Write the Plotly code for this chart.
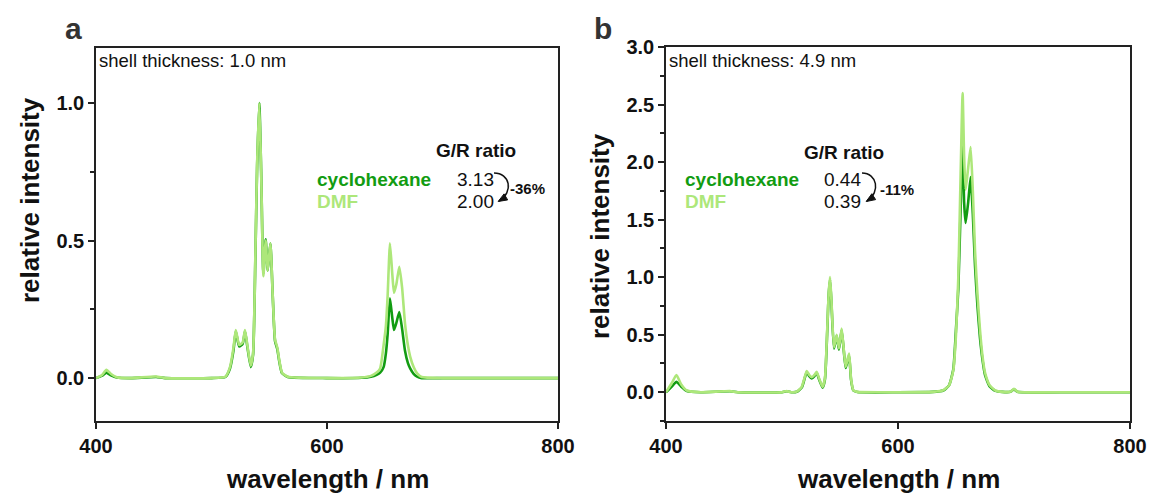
import plotly.graph_objects as go

# ---------------- data ----------------
wl_a = [400, 405, 409, 413, 418, 430, 452, 460, 500, 512, 516, 519, 521, 524, 527, 529, 531, 534,
        536, 538, 539.5, 541.4, 543, 544.9, 546.9, 548.6, 551, 553, 555, 557, 558.5, 561, 566,
        600, 630, 638, 643, 646, 649, 651, 652.5, 654.5, 656.5, 658, 660, 662.6, 665, 667.5, 670,
        672, 675, 678, 682, 700, 750, 800]
dmf_a = [0.0, 0.01, 0.03, 0.015, 0.003, 0.0, 0.006, 0.0, 0.0, 0.005, 0.04, 0.11, 0.175, 0.12, 0.13,
         0.175, 0.12, 0.045, 0.09, 0.45, 0.78, 1.0, 0.75, 0.37, 0.50, 0.39, 0.49, 0.30, 0.14, 0.11,
         0.07, 0.02, 0.005, 0.0, 0.002, 0.008, 0.02, 0.035, 0.12, 0.19, 0.30, 0.49, 0.38, 0.31, 0.34,
         0.405, 0.33, 0.20, 0.12, 0.078, 0.04, 0.017, 0.004, 0.0, 0.0, 0.0]
cyc_a = [0.0, 0.008, 0.02, 0.01, 0.002, 0.0, 0.004, 0.0, 0.0, 0.004, 0.035, 0.10, 0.17, 0.115, 0.125,
         0.17, 0.115, 0.04, 0.085, 0.44, 0.77, 1.0, 0.75, 0.38, 0.505, 0.39, 0.49, 0.30, 0.135, 0.105,
         0.065, 0.018, 0.004, 0.0, 0.001, 0.005, 0.012, 0.02, 0.04, 0.09, 0.16, 0.29, 0.22, 0.175, 0.20,
         0.24, 0.18, 0.10, 0.055, 0.035, 0.015, 0.005, 0.0, 0.0, 0.0, 0.0]

wl_b = [400, 405, 409, 413, 418, 430, 455, 462, 500, 504, 508, 512.7, 517, 519, 521.3, 523.5, 525.6,
        528, 529.9, 532, 535, 537, 539, 540.2, 541.4, 542.6, 544.8, 547.1, 549.1, 551.4, 553, 554.9,
        557.8, 559.5, 561.5, 565, 600, 630, 639, 644, 647.7, 650, 652, 654, 655.7, 657, 658.3, 660.5,
        662.6, 664.5, 666.4, 668.5, 670.7, 673, 675, 679, 684, 690, 697, 700, 703, 750, 800]
dmf_b = [0.0, 0.08, 0.15, 0.07, 0.015, 0.0, 0.01, 0.0, 0.0, 0.01, 0.0, 0.005, 0.046, 0.11, 0.185,
         0.15, 0.13, 0.15, 0.177, 0.12, 0.046, 0.12, 0.55, 0.85, 1.0, 0.80, 0.39, 0.50, 0.38, 0.554,
         0.40, 0.22, 0.336, 0.12, 0.017, 0.003, 0.0, 0.003, 0.017, 0.06, 0.19, 0.5, 1.0, 1.9, 2.6,
         2.05, 1.76, 1.95, 2.13, 1.75, 1.23, 0.85, 0.54, 0.3, 0.17, 0.06, 0.015, 0.003, 0.005, 0.03,
         0.005, 0.0, 0.0]
cyc_b = [0.0, 0.05, 0.09, 0.05, 0.01, 0.0, 0.008, 0.0, 0.0, 0.008, 0.0, 0.004, 0.04, 0.10, 0.175,
         0.14, 0.12, 0.14, 0.17, 0.11, 0.04, 0.11, 0.53, 0.84, 0.98, 0.78, 0.38, 0.49, 0.37, 0.54,
         0.39, 0.21, 0.32, 0.11, 0.015, 0.002, 0.0, 0.003, 0.015, 0.06, 0.2, 0.55, 0.9, 1.6, 2.2,
         1.65, 1.47, 1.65, 1.87, 1.55, 1.1, 0.75, 0.47, 0.27, 0.15, 0.05, 0.012, 0.003, 0.004, 0.025,
         0.004, 0.0, 0.0]

series_names = ["cyclohexane", "DMF"]
ratios_a = ["3.13", "2.00"]
ratios_b = ["0.44", "0.39"]
change_a = "-36%"
change_b = "-11%"
shells = ["shell thickness: 1.0 nm", "shell thickness: 4.9 nm"]

# ---------------- style ----------------
W, H = 1149, 495
C_CYC = "#129c12"
C_DMF = "#ade77a"
FONT = "Arial, Liberation Sans, sans-serif"
AX = "#222222"


def P(px, py):
    return px / W, 1 - py / H


fig = go.Figure()
for xs, ys, col, name, xa, ya in [
    (wl_a, cyc_a, C_CYC, series_names[0], "x", "y"),
    (wl_a, dmf_a, C_DMF, series_names[1], "x", "y"),
    (wl_b, cyc_b, C_CYC, series_names[0], "x2", "y2"),
    (wl_b, dmf_b, C_DMF, series_names[1], "x2", "y2"),
]:
    fig.add_trace(go.Scatter(x=xs, y=ys, mode="lines", name=name, xaxis=xa, yaxis=ya,
                             line=dict(color=col, width=2.6, shape="spline", smoothing=0.5),
                             showlegend=False))

xa_dom = [96 / W, 558 / W]
xb_dom = [666 / W, 1130 / W]
ya_dom = [1 - 421 / H, 1 - 48 / H]
yb_dom = [1 - 421 / H, 1 - 47 / H]

tickfont = dict(family=FONT, size=20, color="#111", weight="bold")
common = dict(showline=True, linecolor=AX, linewidth=1.5, mirror=True, ticks="outside",
              ticklen=6, tickwidth=1.5, tickcolor=AX, showgrid=False, zeroline=False,
              tickfont=tickfont, automargin=False)

fig.update_layout(
    width=W, height=H, margin=dict(l=0, r=0, t=0, b=0, autoexpand=False),
    paper_bgcolor="white", plot_bgcolor="white",
    xaxis=dict(domain=xa_dom, range=[400, 800], tickvals=[400, 600, 800], anchor="y", **common),
    yaxis=dict(domain=ya_dom, range=[-0.156, 1.2], tickvals=[0, 0.5, 1.0],
               ticktext=["0.0", "0.5", "1.0"], anchor="x",
               minor=dict(tickvals=[0.25, 0.75], ticks="outside", ticklen=4, tickwidth=1.5,
                          tickcolor=AX), **common),
    xaxis2=dict(domain=xb_dom, range=[400, 800], tickvals=[400, 600, 800], anchor="y2", **common),
    yaxis2=dict(domain=yb_dom, range=[-0.25, 3.0], tickvals=[0, 0.5, 1.0, 1.5, 2.0, 2.5, 3.0],
                ticktext=["0.0", "0.5", "1.0", "1.5", "2.0", "2.5", "3.0"], anchor="x2",
                minor=dict(tickvals=[-0.25, 0.25, 0.75, 1.25, 1.75, 2.25, 2.75], ticks="outside",
                           ticklen=4, tickwidth=1.5, tickcolor=AX), **common),
)

anns = []


def text(px, py, s, size, color="#111", bold=False, xanchor="center", angle=0):
    x, y = P(px, py)
    anns.append(dict(x=x, y=y, xref="paper", yref="paper", text=s, showarrow=False,
                     xanchor=xanchor, yanchor="middle", textangle=angle,
                     font=dict(family=FONT, size=size, color=color,
                               weight="bold" if bold else "normal")))


# panel letters
text(73, 28, "a", 30, "#333", True)
text(603, 28, "b", 30, "#333", True)
# shell thickness
text(97, 60, shells[0], 18.5, "#111", False, "left")
text(667, 60, shells[1], 18.5, "#111", False, "left")
# axis titles
text(30, 200, "relative intensity", 26, "#111", True, angle=-90)
text(600, 236, "relative intensity", 26, "#111", True, angle=-90)
text(327, 479, "wavelength / nm", 26, "#111", True)
text(898, 479, "wavelength / nm", 26, "#111", True)

blocks = [
    dict(g=(476, 151), lab_x=315, r_x=455, ch=(508, 188), ratios=ratios_a, chg=change_a),
    dict(g=(844, 152), lab_x=683, r_x=822, ch=(878, 189), ratios=ratios_b, chg=change_b),
]
for b in blocks:
    text(b["g"][0], b["g"][1], "G/R ratio", 19, "#111", True)
    text(b["lab_x"], 179, series_names[0], 19, C_CYC, True, "left")
    text(b["lab_x"], 202, series_names[1], 19, C_DMF, True, "left")
    text(b["r_x"], 179, b["ratios"][0], 19, "#111", False, "left")
    text(b["r_x"], 202, b["ratios"][1], 19, "#111", False, "left")
    text(b["ch"][0], b["ch"][1], b["chg"], 15, "#111", True, "left")

fig.update_layout(annotations=anns)

# curved arrows
shapes = []


def curved_arrow(x0, y0, c1, c2, x1, y1):
    pts = [P(x0, y0), P(*c1), P(*c2), P(x1, y1)]
    path = "M {},{} C {},{} {},{} {},{}".format(*[v for p in pts for v in p])
    shapes.append(dict(type="path", path=path, xref="paper", yref="paper",
                       line=dict(color="#111", width=1.5)))
    dx, dy = x1 - c2[0], y1 - c2[1]
    n = (dx * dx + dy * dy) ** 0.5
    ux, uy = dx / n, dy / n
    L, Wd = 8, 3.5
    bx, by = x1 - ux * L, y1 - uy * L
    p1 = P(x1 + ux * 1, y1 + uy * 1)
    p2 = P(bx - uy * Wd, by + ux * Wd)
    p3 = P(bx + uy * Wd, by - ux * Wd)
    hp = "M {},{} L {},{} L {},{} Z".format(*p1, *p2, *p3)
    shapes.append(dict(type="path", path=hp, xref="paper", yref="paper",
                       fillcolor="#111", line=dict(color="#111", width=1)))


curved_arrow(494, 173, (510, 173), (514, 192), 499, 201)
curved_arrow(862, 173, (877, 173), (881, 192), 867, 201)
fig.update_layout(shapes=shapes)

fig.write_html("out.html")
